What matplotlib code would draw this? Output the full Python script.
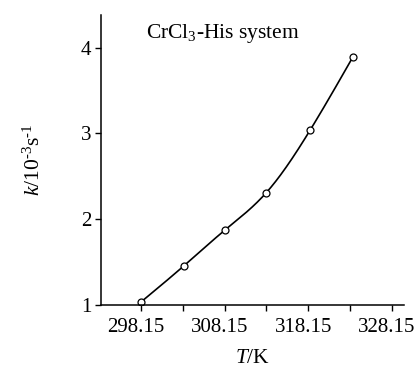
import numpy as np
import matplotlib
matplotlib.use("Agg")
import matplotlib.pyplot as plt
from matplotlib.transforms import ScaledTranslation

# Data
T = [298.15, 303.3, 308.15, 313.15, 318.4, 323.5]
k = [1.035, 1.458, 1.87, 2.31, 3.04, 3.89]
xticks_major = [298.15, 308.15, 318.15, 328.15]
xticks_minor = [303.15, 313.15, 323.15]
yticks = [1, 2, 3, 4]

plt.rcParams['font.family'] = ['Liberation Serif', 'DejaVu Serif']
plt.rcParams['mathtext.fontset'] = 'custom'
plt.rcParams['mathtext.rm'] = 'Liberation Serif'
plt.rcParams['mathtext.it'] = 'Liberation Serif:italic'


def natural_spline(x, y, xs):
    x = np.asarray(x, float); y = np.asarray(y, float)
    n = len(x)
    h = np.diff(x)
    A = np.zeros((n, n)); b = np.zeros(n)
    A[0, 0] = A[-1, -1] = 1
    for i in range(1, n - 1):
        A[i, i - 1] = h[i - 1]
        A[i, i] = 2 * (h[i - 1] + h[i])
        A[i, i + 1] = h[i]
        b[i] = 6 * ((y[i + 1] - y[i]) / h[i] - (y[i] - y[i - 1]) / h[i - 1])
    M = np.linalg.solve(A, b)
    out = np.empty_like(xs)
    for j, t in enumerate(xs):
        i = min(max(np.searchsorted(x, t) - 1, 0), n - 2)
        dx1 = x[i + 1] - t; dx0 = t - x[i]
        out[j] = (M[i] * dx1**3 + M[i + 1] * dx0**3) / (6 * h[i]) \
            + (y[i] / h[i] - M[i] * h[i] / 6) * dx1 \
            + (y[i + 1] / h[i] - M[i + 1] * h[i] / 6) * dx0
    return out


FS = 15.5
fig = plt.figure(figsize=(4.19, 3.72), dpi=100)
ax = fig.add_axes([0.241, 0.180, 0.723, 0.780])

xs = np.linspace(T[0], T[-1], 300)
ax.plot(xs, natural_spline(T, k, xs), color='black', lw=1.2)
ax.plot(T, k, 'o', mfc='white', mec='black', ms=5, mew=0.9)

ax.set_xlim(293.37, 329.6)
ax.set_ylim(1, 4.38)
ax.set_xticks(xticks_major)
ax.set_xticks(xticks_minor, minor=True)
ax.set_xticklabels([f"{v:.2f}" for v in xticks_major])
ax.set_yticks(yticks)
ax.tick_params(axis='both', which='both', direction='out', length=4, width=1, labelsize=15)
ax.tick_params(axis='x', pad=5)
ax.tick_params(axis='y', pad=3)
shift = ScaledTranslation(-5 / 100, 0, fig.dpi_scale_trans)
for lbl in ax.get_xticklabels():
    lbl.set_transform(lbl.get_transform() + shift)
for s in ['top', 'right']:
    ax.spines[s].set_visible(False)
for s in ['left', 'bottom']:
    ax.spines[s].set_linewidth(1.1)

ax.set_xlabel('$T$/K', fontsize=FS, labelpad=9)
ax.set_ylabel(r'$k$/10$^{\text{-3}}$s$^{\text{-1}}$', fontsize=FS, labelpad=26)
ax.text(0.404, 0.975, 'CrCl$_3$-His system', transform=ax.transAxes, fontsize=FS,
        ha='center', va='top')

fig.savefig('out.png', dpi=100)
